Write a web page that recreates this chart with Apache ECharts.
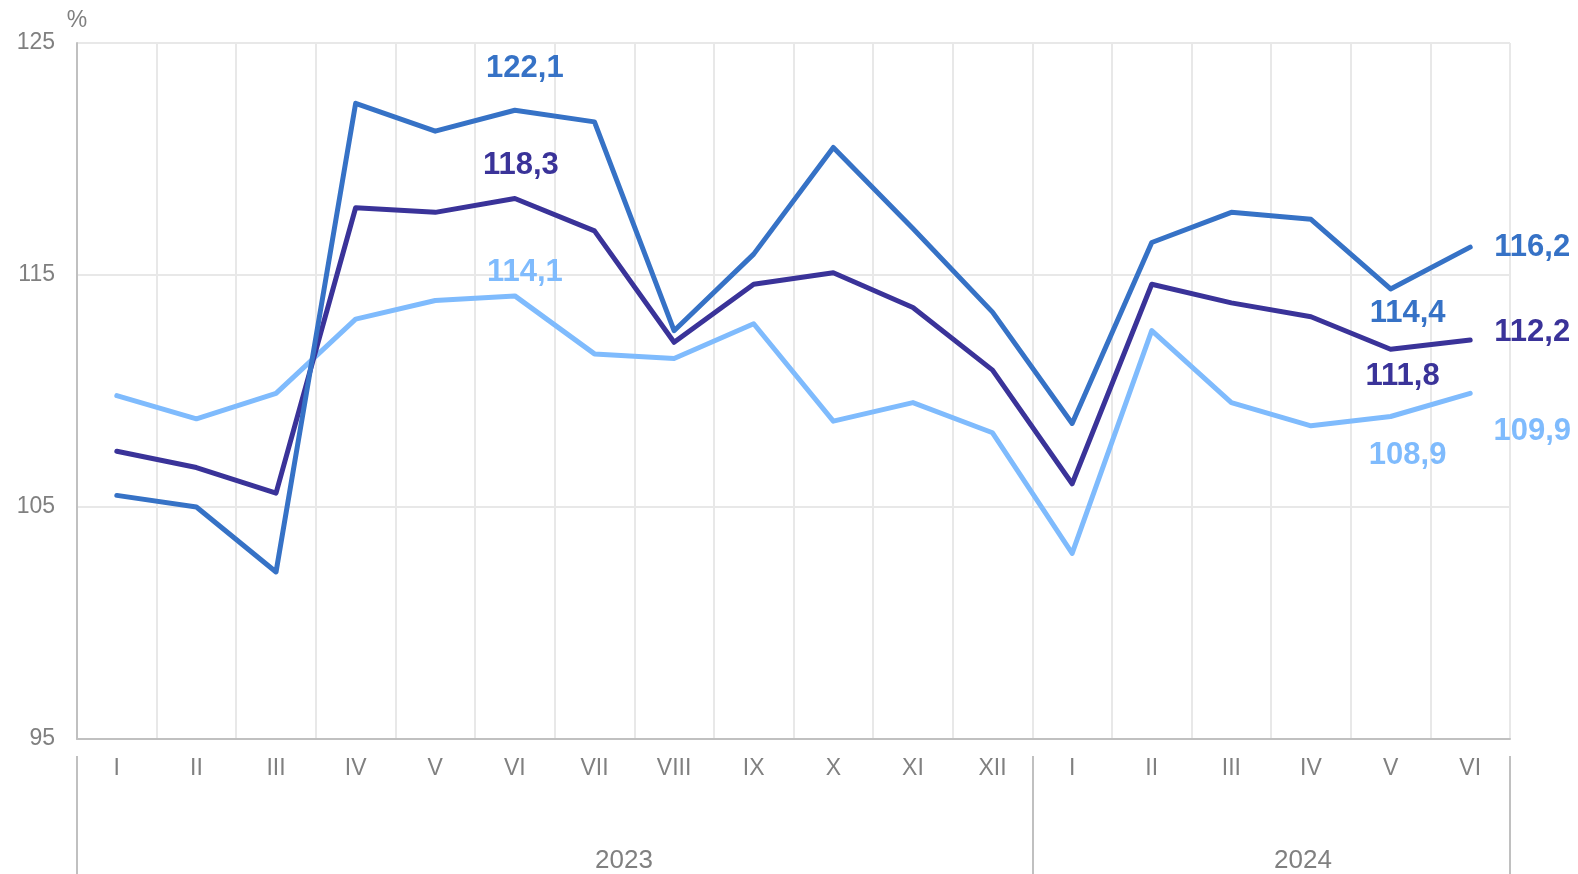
<!DOCTYPE html>
<html>
<head>
<meta charset="utf-8">
<script src="https://cdn.jsdelivr.net/npm/echarts@6/dist/echarts.min.js"></script>
<style>
html,body{margin:0;padding:0;background:#fff;}
#chart{width:1578px;height:874px;}
</style>
</head>
<body>
<div id="chart"></div>
<script>
// ---- data ----
const categories = ['I','II','III','IV','V','VI','VII','VIII','IX','X','XI','XII','I','II','III','IV','V','VI'];
const years = ['2023', '2024'];
const monthsPerYear = [12, 6];
const yTicks = [95, 105, 115, 125];
const seriesMid   = [105.5,105.0,102.2,122.4,121.2,122.1,121.6,112.6,115.9,120.5,117.0,113.4,108.6,116.4,117.7,117.4,114.4,116.2];
const seriesNavy  = [107.4,106.7,105.6,117.9,117.7,118.3,116.9,112.1,114.6,115.1,113.6,110.9,106.0,114.6,113.8,113.2,111.8,112.2];
const seriesLight = [109.8,108.8,109.9,113.1,113.9,114.1,111.6,111.4,112.9,108.7,109.5,108.2,103.0,112.6,109.5,108.5,108.9,109.9];

// ---- style ----
const FONT = '"Liberation Sans", Arial, sans-serif';
const GRAY_TEXT = '#808080';
const AXIS_GRAY = '#c0c0c0';
const GRID_GRAY = '#e8e8e8';
const colors = { mid: '#3672c6', navy: '#3a3399', light: '#7fbbfd' };
// label offsets (style only), keyed by data index
const labelSpec = {
  mid:   { 5: [10, -42], 16: [17, 25], 17: [62, 0] },
  navy:  { 5: [6, -33], 16: [12, 27], 17: [62, -8] },
  light: { 5: [10, -23], 16: [17, 39], 17: [62, 38] }
};
const yearLabelAt = [6.87, 15.4]; // label anchor positions along the year axis

function fmt(v) { return v.toFixed(1).replace('.', ','); }

function buildData(values, key) {
  return values.map((v, i) => {
    const off = labelSpec[key][i];
    if (!off) return v;
    return {
      value: v,
      label: {
        show: true, position: 'inside', offset: off,
        formatter: p => fmt(p.value),
        color: colors[key], fontFamily: FONT, fontWeight: 'bold', fontSize: 31
      }
    };
  });
}

function makeSeries(values, key) {
  return {
    type: 'line',
    data: buildData(values, key),
    symbol: 'circle',
    symbolSize: 0.01,
    showSymbol: true,
    lineStyle: { color: colors[key], width: 5, cap: 'round', join: 'round' },
    itemStyle: { color: colors[key] },
    label: { show: false },
    emphasis: { disabled: true },
    animation: false,
    z: 3
  };
}

const boundaries = [0];
monthsPerYear.forEach(n => boundaries.push(boundaries[boundaries.length - 1] + n));

const chart = echarts.init(document.getElementById('chart'), null, { renderer: 'canvas' });
chart.setOption({
  animation: false,
  backgroundColor: '#ffffff',
  textStyle: { fontFamily: FONT },
  grid: { left: 77, right: 68, top: 43, bottom: 134, containLabel: false },
  xAxis: [
    {
      type: 'category',
      data: categories,
      boundaryGap: true,
      axisLine: { show: true, lineStyle: { color: AXIS_GRAY, width: 2 } },
      axisTick: { show: false },
      axisLabel: { color: GRAY_TEXT, fontSize: 23, fontFamily: FONT, margin: 18, interval: 0 },
      splitLine: { show: true, interval: 0, lineStyle: { color: GRID_GRAY, width: 2 } }
    },
    {
      type: 'value',
      min: 0,
      max: categories.length,
      position: 'bottom',
      offset: 17,
      axisLine: { show: false },
      splitLine: { show: false },
      axisTick: {
        show: true, length: 130, customValues: boundaries,
        lineStyle: { color: AXIS_GRAY, width: 2 }
      },
      axisLabel: {
        show: true, customValues: yearLabelAt, margin: 92,
        color: GRAY_TEXT, fontSize: 26, fontFamily: FONT,
        formatter: v => years[yearLabelAt.indexOf(v)] || ''
      }
    }
  ],
  yAxis: {
    type: 'value',
    min: yTicks[0],
    max: yTicks[yTicks.length - 1],
    interval: yTicks[1] - yTicks[0],
    name: '%',
    nameLocation: 'end',
    nameGap: 22,
    nameTextStyle: { color: GRAY_TEXT, fontSize: 23, fontFamily: FONT, align: 'center', verticalAlign: 'middle' },
    axisLine: { show: true, lineStyle: { color: AXIS_GRAY, width: 2 } },
    axisTick: { show: false },
    axisLabel: { color: GRAY_TEXT, fontSize: 23, fontFamily: FONT, margin: 22 },
    splitLine: { show: true, lineStyle: { color: GRID_GRAY, width: 2 } }
  },
  series: [
    makeSeries(seriesLight, 'light'),
    makeSeries(seriesNavy, 'navy'),
    makeSeries(seriesMid, 'mid')
  ]
});
</script>
</body>
</html>
